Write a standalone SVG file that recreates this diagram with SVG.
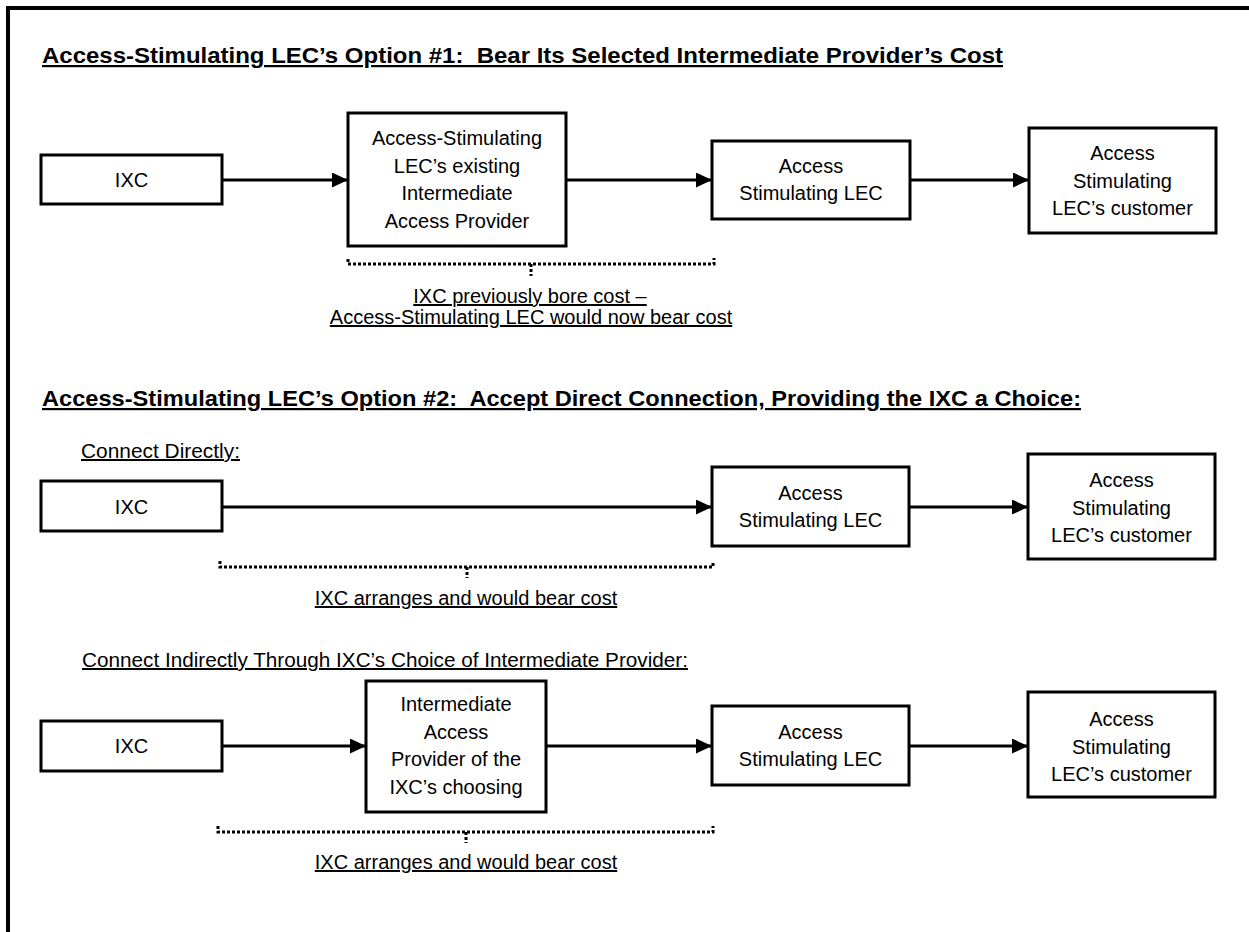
<svg xmlns="http://www.w3.org/2000/svg" width="1249" height="932" viewBox="0 0 1249 932">
<style>
text{font-family:"Liberation Sans",Arial,sans-serif;font-size:20px;fill:#000}
.c{text-anchor:middle}
.t{font-size:22px;font-weight:bold;text-decoration:underline;white-space:pre}
.u{text-decoration:underline}
.box{fill:#fff;stroke:#000;stroke-width:3}
.arr{stroke:#000;stroke-width:3;fill:none;marker-end:url(#ah)}
.br{stroke:#000;stroke-width:3;fill:none;stroke-dasharray:3 2}
</style>
<defs>
<marker id="ah" markerUnits="userSpaceOnUse" markerWidth="16" markerHeight="15" refX="16" refY="7.5" orient="auto">
<path d="M0,0 L16,7.5 L0,15 z" fill="#000"/>
</marker>
</defs>
<rect width="1249" height="932" fill="#fff"/>
<g id="frame">
<line x1="6" y1="8" x2="1249" y2="8" stroke="#000" stroke-width="4"/>
<line x1="8" y1="6" x2="8" y2="932" stroke="#000" stroke-width="4"/>
</g>
<g id="titles">
<text class="t" x="42" y="63" textLength="961" lengthAdjust="spacingAndGlyphs" xml:space="preserve">Access-Stimulating LEC’s Option #1:  Bear Its Selected Intermediate Provider’s Cost</text>
<text class="t" x="42" y="406" textLength="1039" lengthAdjust="spacingAndGlyphs" xml:space="preserve">Access-Stimulating LEC’s Option #2:  Accept Direct Connection, Providing the IXC a Choice:</text>
<text class="u" x="81" y="458" textLength="159" lengthAdjust="spacingAndGlyphs">Connect Directly:</text>
<text class="u" x="82" y="667" textLength="606" lengthAdjust="spacingAndGlyphs">Connect Indirectly Through IXC’s Choice of Intermediate Provider:</text>
</g>
<g id="connectors">
<line class="arr" x1="222" y1="180" x2="348" y2="180"/>
<line class="arr" x1="566" y1="180" x2="712" y2="180"/>
<line class="arr" x1="910" y1="180" x2="1029" y2="180"/>
<line class="arr" x1="222" y1="507" x2="712" y2="507"/>
<line class="arr" x1="909" y1="507" x2="1028" y2="507"/>
<line class="arr" x1="222" y1="746" x2="366" y2="746"/>
<line class="arr" x1="546" y1="746" x2="712" y2="746"/>
<line class="arr" x1="909" y1="746" x2="1028" y2="746"/>
</g>
<g id="row1-ixc"><rect class="box" x="41" y="155" width="181" height="49"/><text class="c" x="131.5" y="187">IXC</text></g>
<g id="row1-intermediate"><rect class="box" x="348" y="113" width="218" height="133"/>
<text class="c" x="457" y="145">Access-Stimulating</text>
<text class="c" x="457" y="173">LEC’s existing</text>
<text class="c" x="457" y="200">Intermediate</text>
<text class="c" x="457" y="228">Access Provider</text></g>
<g id="row1-lec"><rect class="box" x="712" y="141" width="198" height="78"/>
<text class="c" x="811" y="173">Access</text>
<text class="c" x="811" y="200">Stimulating LEC</text></g>
<g id="row1-customer"><rect class="box" x="1029" y="128" width="187" height="105"/>
<text class="c" x="1122.5" y="160">Access</text>
<text class="c" x="1122.5" y="188">Stimulating</text>
<text class="c" x="1122.5" y="215">LEC’s customer</text></g>
<g id="row1-note">
<path class="br" d="M348,259 L348,264 L714,264 L714,258 M531,264 L531,276"/>
<text class="c u" x="530" y="303">IXC previously bore cost –</text>
<text class="c u" x="531" y="324">Access-Stimulating LEC would now bear cost</text>
</g>
<g id="row2-ixc"><rect class="box" x="41" y="481" width="181" height="50"/><text class="c" x="131.5" y="514">IXC</text></g>
<g id="row2-lec"><rect class="box" x="712" y="467" width="197" height="79"/>
<text class="c" x="810.5" y="500">Access</text>
<text class="c" x="810.5" y="527">Stimulating LEC</text></g>
<g id="row2-customer"><rect class="box" x="1028" y="454" width="187" height="105"/>
<text class="c" x="1121.5" y="487">Access</text>
<text class="c" x="1121.5" y="515">Stimulating</text>
<text class="c" x="1121.5" y="542">LEC’s customer</text></g>
<g id="row2-note">
<path class="br" d="M220,561 L220,567 L713,567 L713,561 M467,567 L467,578"/>
<text class="c u" x="466" y="605">IXC arranges and would bear cost</text>
</g>
<g id="row3-ixc"><rect class="box" x="41" y="721" width="181" height="50"/><text class="c" x="131.5" y="753">IXC</text></g>
<g id="row3-intermediate"><rect class="box" x="366" y="681" width="180" height="131"/>
<text class="c" x="456" y="711">Intermediate</text>
<text class="c" x="456" y="739">Access</text>
<text class="c" x="456" y="766">Provider of the</text>
<text class="c" x="456" y="794">IXC’s choosing</text></g>
<g id="row3-lec"><rect class="box" x="712" y="706" width="197" height="79"/>
<text class="c" x="810.5" y="739">Access</text>
<text class="c" x="810.5" y="766">Stimulating LEC</text></g>
<g id="row3-customer"><rect class="box" x="1028" y="692" width="187" height="105"/>
<text class="c" x="1121.5" y="726">Access</text>
<text class="c" x="1121.5" y="754">Stimulating</text>
<text class="c" x="1121.5" y="781">LEC’s customer</text></g>
<g id="row3-note">
<path class="br" d="M218,826 L218,832 L713,832 L713,826 M466,832 L466,843"/>
<text class="c u" x="466" y="869">IXC arranges and would bear cost</text>
</g>
</svg>
